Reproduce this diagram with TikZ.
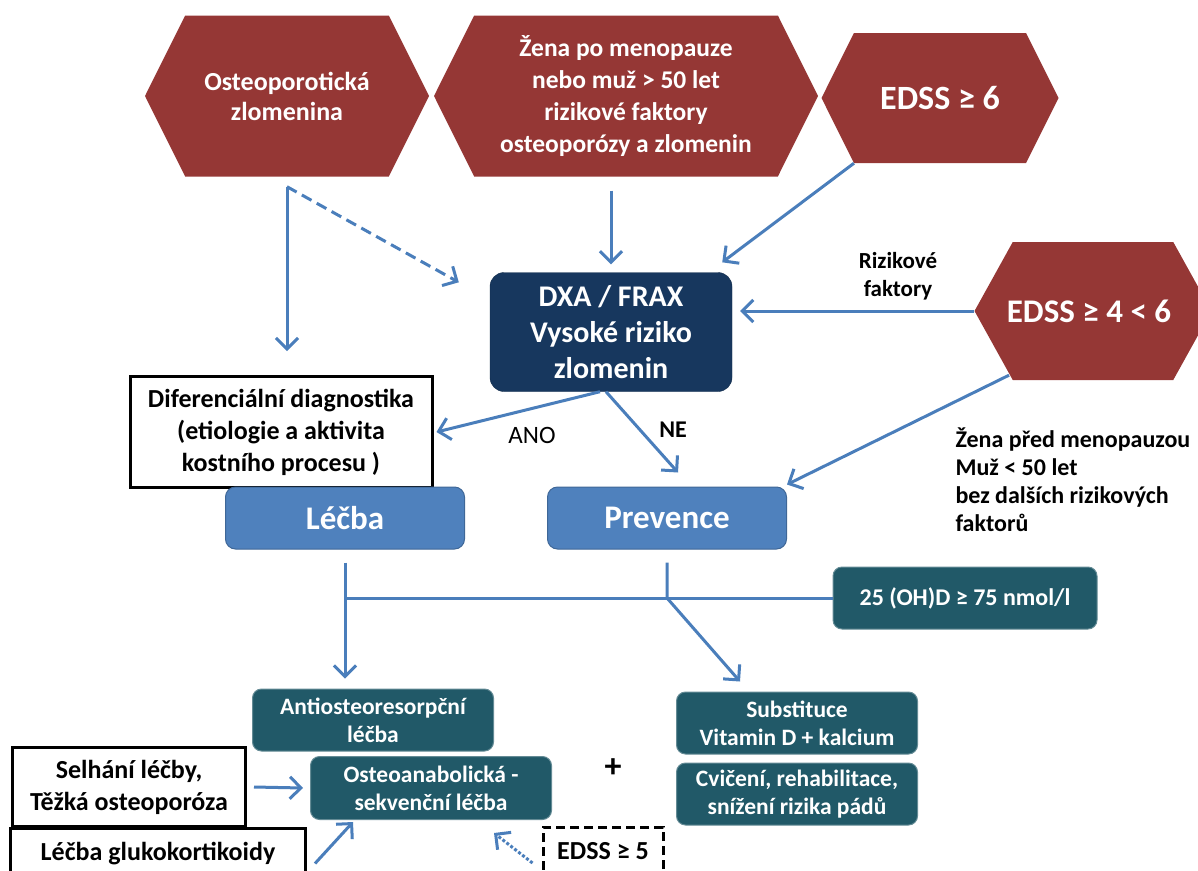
\documentclass[tikz,border=0pt]{standalone}
\usepackage{fontspec}
\setmainfont{Carlito}
\usetikzlibrary{arrows.meta,shapes.symbols}
\definecolor{hexred}{HTML}{953735}
\definecolor{dxanavy}{HTML}{17375E}
\definecolor{stageblue}{HTML}{4F81BD}
\definecolor{tealfill}{HTML}{215968}
\definecolor{arrblue}{HTML}{4A7EBB}

\begin{document}
\begin{tikzpicture}[
    x=1pt,y=-1pt,
    >={Straight Barb[length=11pt,width=22pt,line width=3pt]},
    hexa/.style={shape=signal,signal to=west and east,signal pointer angle=127,fill=hexred,text=white,align=center,inner sep=0pt},
    dark/.style={fill=dxanavy,draw=dxanavy!80!black,rounded corners=14pt,text=white,align=center,font=\bfseries\fontsize{30}{36}\selectfont},
    stage/.style={fill=stageblue,draw=stageblue!80!black,line width=1pt,rounded corners=10pt,text=white,minimum width=239,minimum height=62,font=\bfseries\fontsize{33}{36}\selectfont},
    teal/.style={fill=tealfill,draw=tealfill!70!white,line width=1pt,rounded corners=9pt,text=white,align=center,minimum width=241,minimum height=62,font=\bfseries\fontsize{23.5}{28}\selectfont},
    note/.style={draw=black,line width=3pt,fill=white,align=center,font=\bfseries\fontsize{26}{32}\selectfont},
    lbl/.style={font=\bfseries\fontsize{23}{28}\selectfont},
    arr/.style={->,draw=arrblue,line width=3pt},
    link/.style={draw=arrblue,line width=3pt}
]
\useasboundingbox (0,0) rectangle (1198,870);

% risk groups
\node[hexa,minimum width=284,minimum height=161,font=\bfseries\fontsize{26}{30}\selectfont] (frac) at (287,96) {Osteoporotická\\zlomenina};
\node[hexa,minimum width=384,minimum height=161,font=\bfseries\fontsize{25.5}{32}\selectfont] (woman) at (626,96) {Žena po menopauze\\nebo muž > 50 let\\rizikové faktory\\osteoporózy a zlomenin};
\node[hexa,minimum width=237,minimum height=130,font=\bfseries\fontsize{34}{36}\selectfont] (edss6) at (940,98) {EDSS ≥ 6};
\node[hexa,minimum width=237,minimum height=138,signal pointer angle=122,font=\bfseries\fontsize{33}{36}\selectfont] (edss4) at (1093,311) {\hspace*{-8pt}EDSS ≥ 4 < 6};

% assessment
\node[dark,minimum width=242,minimum height=119] (dxa) at (611,332) {DXA / FRAX\\Vysoké riziko\\zlomenin};
\node[lbl,align=center] (riskf) at (898,276) {Rizikové\\faktory};
\node[note,minimum width=302,minimum height=111] (diag) at (281,432) {Diferenciální diagnostika\\(etiologie a aktivita\\kostního procesu )};
\node[lbl,font=\fontsize{25}{28}\selectfont] (ano) at (532,435) {ANO};
\node[lbl,font=\bfseries\fontsize{24}{28}\selectfont] (ne) at (673,430) {NE};
\node[lbl,align=left,anchor=west,font=\bfseries\fontsize{24}{28}\selectfont] (young) at (952,480) {Žena před menopauzou\\Muž < 50 let\\bez dalších rizikových\\faktorů};

\node[stage] (treat) at (345,518) {Léčba};
\node[stage] (prev) at (667,518) {Prevence};
\node[teal,minimum width=264,font=\bfseries\fontsize{24}{28}\selectfont] (vit25) at (965,598) {25 (OH)D ≥ 75 nmol/l};

% therapy
\node[teal] (anti) at (373,720) {Antiosteoresorpční\\léčba};
\node[teal,minimum height=63] (osteo) at (431,788) {Osteoanabolická -\\sekvenční léčba};
\node[teal] (subst) at (797,723) {Substituce\\Vitamin D + kalcium};
\node[teal] (exer) at (797,794) {Cvičení, rehabilitace,\\snížení rizika pádů};
\node[font=\bfseries\fontsize{34}{36}\selectfont] (plus) at (613,768) {+};
\node[note,minimum width=233,minimum height=79] (fail) at (129,787) {Selhání léčby,\\Těžká osteoporóza};
\node[note,minimum width=295,minimum height=52] (gluco) at (158,854) {Léčba glukokortikoidy};
\node[note,dashed,dash pattern=on 9pt off 5pt,minimum width=120,minimum height=48,font=\bfseries\fontsize{26}{28}\selectfont] (edss5) at (603,851) {EDSS ≥ 5};

% connectors
\draw[arr] ([yshift=-10pt]frac.south) -- ([yshift=24pt]diag.north -| frac.south);
\draw[arr,dashed,dash pattern=on 11pt off 6pt] ([yshift=-10pt]frac.south) -- ([xshift=-31pt,yshift=-10pt]dxa.north west);
\draw[arr] ([yshift=-14pt]woman.south -| dxa.north) -- ([yshift=8pt]dxa.north);
\draw[arr] ([xshift=-86pt]edss6.south) -- ([xshift=-10pt,yshift=10pt]dxa.north east);
\draw[arr] (edss4.west) -- ([xshift=8pt]dxa.east |- edss4.west);
\draw[arr] ([xshift=-84pt,yshift=5pt]edss4.south) -- ([yshift=2pt]prev.north east);
\draw[arr] ([xshift=-11pt]dxa.south) -- ([xshift=3pt]diag.east);
\draw[arr] ([xshift=-5pt]dxa.south) -- ([xshift=11pt,yshift=14pt]prev.north);
\draw[arr] ([yshift=-13pt]treat.south) -- ([yshift=10pt]anti.north -| treat.south);
\draw[link] (treat.south |- vit25.west) -- (vit25.west);
\draw[arr] ([yshift=-13pt]prev.south) -- (prev.south |- vit25.west) -- ([xshift=-57pt,yshift=10pt]subst.north);
\draw[arr] ([xshift=7pt]fail.east) -- ([xshift=-7pt]osteo.west);
\draw[arr] ([xshift=8pt,yshift=-37pt]gluco.north east) -- ([xshift=43pt,yshift=-2pt]osteo.south west);
\draw[arr,dotted] ([xshift=-9pt,yshift=-12pt]edss5.west) -- ([xshift=-58pt,yshift=-13pt]osteo.south east);
\end{tikzpicture}
\end{document}
